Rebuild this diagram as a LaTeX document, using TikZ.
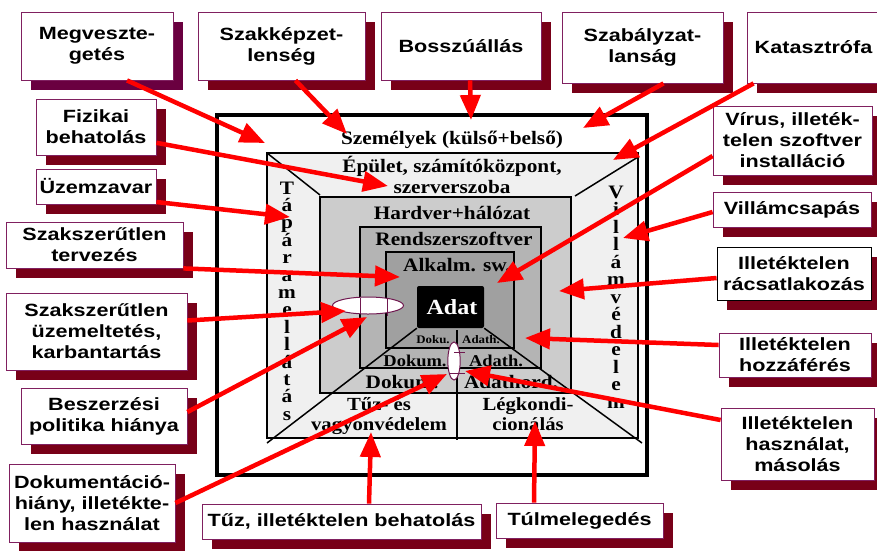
\documentclass[tikz,border=0pt]{standalone}
\usepackage{fontspec}
\setmainfont{Liberation Serif}[FakeStretch=1.12]
\newfontfamily\labfont{Liberation Sans}[FakeStretch=1.22]
\usetikzlibrary{arrows.meta,backgrounds}
\definecolor{threatred}{RGB}{255,0,0}
\definecolor{labborder}{RGB}{128,32,96}
\definecolor{labshadow}{RGB}{120,0,24}
\definecolor{megvshadow}{RGB}{106,0,64}
\definecolor{holeborder}{RGB}{112,24,80}
\definecolor{ringA}{RGB}{240,240,240}
\definecolor{ringB}{RGB}{204,204,204}
\definecolor{ringC}{RGB}{180,180,180}
\definecolor{ringD}{RGB}{160,160,160}

\begin{document}
\begin{tikzpicture}[x=1pt,y=1pt,yscale=-1,xscale=1,
  wall/.style={draw=black,line width=1.5pt},
  walltext/.style={inner sep=0pt,anchor=base,font=\fontsize{19}{21}\selectfont\bfseries},
  lab/.style={draw=labborder,line width=0.8pt,fill=white,inner sep=0pt,align=center,
    font=\labfont\fontsize{17.7}{21}\selectfont\bfseries},
  threat/.style={draw=threatred,line width=4.5pt,-{Triangle[length=25pt,width=20pt]}}]
\useasboundingbox (0,0) rectangle (877,550);

% outer frame and walls
\draw [line width=4pt,fill=white] (217,115) rectangle (647,475);
\draw [wall,fill=ringA] (267,153) rectangle (638,438);
\draw [wall] (267,153) -- (320,195);
\draw [wall] (638,157) -- (575,196);
\draw [wall,fill=ringB] (320,197) rectangle (571,393);
\draw [wall,fill=ringC] (360,227) rectangle (541,368);
\draw [wall,fill=ringD] (386,252) rectangle (514,348);
\node [fill=black,rounded corners=2pt,minimum width=67pt,minimum height=42pt] (adat) at (450.5,307) {};
\node [walltext,text=white,font=\fontsize{21.5}{24}\selectfont\bfseries] (adattxt) at (452,314) {Adat};

% bottom dividers
\draw [wall] (adat.south west) -- (267,443);
\draw [wall] (adat.south east) -- (642,443);
\draw [wall] (457,330) -- (457,440);

% wall texts
\node [walltext] (szemely) at (452,144) {Személyek (külső+belső)};
\node [walltext] (epulet) at (452,172) {Épület, számítóközpont,};
\node [walltext] (szerver) at (452,193) {szerverszoba};
\node [walltext] (hardver) at (452,219) {Hardver+hálózat};
\node [walltext] (rendszer) at (454,245) {Rendszerszoftver};
\node [walltext] (alkalm) at (457,271) {Alkalm. sw.};
\node [walltext,font=\fontsize{11.5}{13}\selectfont\bfseries] (doku1) at (433,343) {Doku.};
\node [walltext,font=\fontsize{11.5}{13}\selectfont\bfseries] (adath1) at (481,343) {Adath.};
\node [walltext,font=\fontsize{16.5}{18}\selectfont\bfseries] (doku2) at (415,366) {Dokum.};
\node [walltext,font=\fontsize{16.5}{18}\selectfont\bfseries] (adath2) at (496,366) {Adath.};
\node [walltext] (doku3) at (402,388) {Dokum.};
\node [walltext] (adath3) at (511,388) {Adathord.};
\node [walltext,font=\fontsize{18.5}{20}\selectfont\bfseries] (tuzvedelem) at (379,410) {Tűz- és};
\node [walltext,font=\fontsize{18.5}{20}\selectfont\bfseries] (vagyon) at (379,430) {vagyonvédelem};
\node [walltext,font=\fontsize{18.5}{20}\selectfont\bfseries] (legkondi) at (528,410) {Légkondi-};
\node [walltext,font=\fontsize{18.5}{20}\selectfont\bfseries] (cional) at (528,430) {cionálás};
\foreach \ch [count=\i from 0] in {T,á,p,á,r,a,m,e,l,l,á,t,á,s}
  \node [walltext] (tap\i) at (287,194+17.4*\i) {\ch};
\foreach \ch [count=\i from 0] in {V,i,l,l,á,m,v,é,d,e,l,e,m}
  \node [walltext] (vill\i) at (616,198+17.5*\i) {\ch};

% holes in the walls
\draw [draw=holeborder,line width=1pt,fill=white] (368,305.5) ellipse [x radius=35.5,y radius=8.5];
\draw [draw=holeborder,line width=1pt] (360,297.5) -- (360,313.5);
\draw [draw=holeborder,line width=1pt] (387,298) -- (387,316);
\draw [draw=holeborder,line width=1pt,fill=white] (454,361) ellipse [x radius=6.2,y radius=19];
\draw [draw=holeborder,line width=1pt] (454,352.5) -- (465,352.5);
\draw [draw=holeborder,line width=1pt] (450,373) -- (465,373);

% threat boxes
\node [lab,minimum width=152pt,minimum height=68pt] (megv) at (97,46) {Megveszte-\\getés};
\node [lab,minimum width=167pt,minimum height=68pt] (szakk) at (281.5,46) {Szakképzet-\\lenség};
\node [lab,minimum width=160pt,minimum height=68pt] (bossz) at (461,46) {Bosszúállás};
\node [lab,minimum width=161pt,minimum height=71pt] (szab) at (642.5,47.5) {Szabályzat-\\lanság};
\node [lab,minimum width=133pt,minimum height=71pt] (kat) at (813.5,47.5) {Katasztrófa};
\node [lab,minimum width=159pt,minimum height=69pt] (virus) at (792.5,140.5) {Vírus, illeték-\\telen szoftver\\installáció};
\node [lab,minimum width=158pt,minimum height=35pt] (vill) at (792,209.5) {Villámcsapás};
\node [lab,draw=black,minimum width=154pt,minimum height=53pt] (racs) at (794,273.5) {Illetéktelen\\rácsatlakozás};
\node [lab,minimum width=152pt,minimum height=44pt] (hozz) at (795,355) {Illetéktelen\\hozzáférés};
\node [lab,minimum width=153pt,minimum height=72pt] (hasz) at (797.5,444) {Illetéktelen\\használat,\\másolás};
\node [lab,minimum width=120pt,minimum height=56pt] (fiz) at (96,127) {Fizikai\\behatolás};
\node [lab,minimum width=120pt,minimum height=35pt] (uzem) at (96,186.5) {Üzemzavar};
\node [lab,minimum width=177pt,minimum height=46pt] (tervez) at (94.5,245) {Szakszerűtlen\\tervezés};
\node [lab,minimum width=181pt,minimum height=77pt] (uzemelt) at (96.5,331.5) {Szakszerűtlen\\üzemeltetés,\\karbantartás};
\node [lab,minimum width=166pt,minimum height=56pt] (besz) at (104,416) {Beszerzési\\politika hiánya};
\node [lab,minimum width=166pt,minimum height=78pt] (dok) at (92,503) {Dokumentáció-\\hiány, illetékte-\\len használat};
\node [lab,minimum width=279pt,minimum height=35pt] (tuz) at (341.5,521.5) {Tűz, illetéktelen behatolás};
\node [lab,minimum width=167pt,minimum height=35pt] (tulm) at (579.5,520.5) {Túlmelegedés};

% shadows behind the boxes
\begin{scope}[on background layer]
\fill [megvshadow] ([xshift=10pt,yshift=10pt]megv.north west) rectangle ([xshift=10pt,yshift=10pt]megv.south east);
\foreach \b in {szakk,bossz,szab,kat,virus,vill,racs,hozz,hasz,fiz,uzem,tervez,uzemelt,besz,dok,tuz,tulm}
  \fill [labshadow] ([xshift=10pt,yshift=10pt]\b.north west) rectangle ([xshift=10pt,yshift=10pt]\b.south east);
\end{scope}

% arrow targets
\coordinate (tMegv) at (265,143);
\coordinate (tSzakk) at (347,134);
\coordinate (tBossz) at (471,120);
\coordinate (tSzab) at (583,128);
\coordinate (tKat) at (613,160);
\coordinate (tVirus) at (497,283);
\coordinate (tVill) at (623,238);
\coordinate (tRacs) at (559,291);
\coordinate (tHozz) at (525,338);
\coordinate (tHasz) at (465,371);
\coordinate (tFiz) at (388,186);
\coordinate (tUzem) at (290,217);
\coordinate (tTervez) at (400,277);
\coordinate (tUzemelt) at (346,311);
\coordinate (tBesz) at (367,317);
\coordinate (tDok) at (447,374);
\coordinate (tTuz) at (371,432);
\coordinate (tTulm) at (535,421);

% threats
\draw [threat] ([xshift=30pt]megv.south) -- (tMegv);
\draw [threat] ([xshift=14pt]szakk.south) -- (tSzakk);
\draw [threat] ([xshift=9pt]bossz.south) -- (tBossz);
\draw [threat] ([xshift=21pt]szab.south) -- (tSzab);
\draw [threat] ([xshift=7pt]kat.south west) -- (tKat);
\draw [threat] ([yshift=15.5pt]virus.west) -- (tVirus);
\draw [threat] ([yshift=2.5pt]vill.west) -- (tVill);
\draw [threat] ([yshift=4.5pt]racs.west) -- (tRacs);
\draw [threat] ([yshift=-10pt]hozz.west) -- (tHozz);
\draw [threat] ([yshift=-24pt]hasz.west) -- (tHasz);
\draw [threat] ([yshift=15.8pt]fiz.east) -- (tFiz);
\draw [threat] ([yshift=15.5pt]uzem.east) -- (tUzem);
\draw [threat] (tervez.south east) -- (tTervez);
\draw [threat] ([yshift=-11pt]uzemelt.east) -- (tUzemelt);
\draw [threat] ([yshift=-4pt]besz.east) -- (tBesz);
\draw [threat] (dok.east) -- (tDok);
\draw [threat] ([xshift=27.5pt]tuz.north) -- (tTuz);
\draw [threat] ([xshift=-45.5pt]tulm.north) -- (tTulm);

\end{tikzpicture}
\end{document}
